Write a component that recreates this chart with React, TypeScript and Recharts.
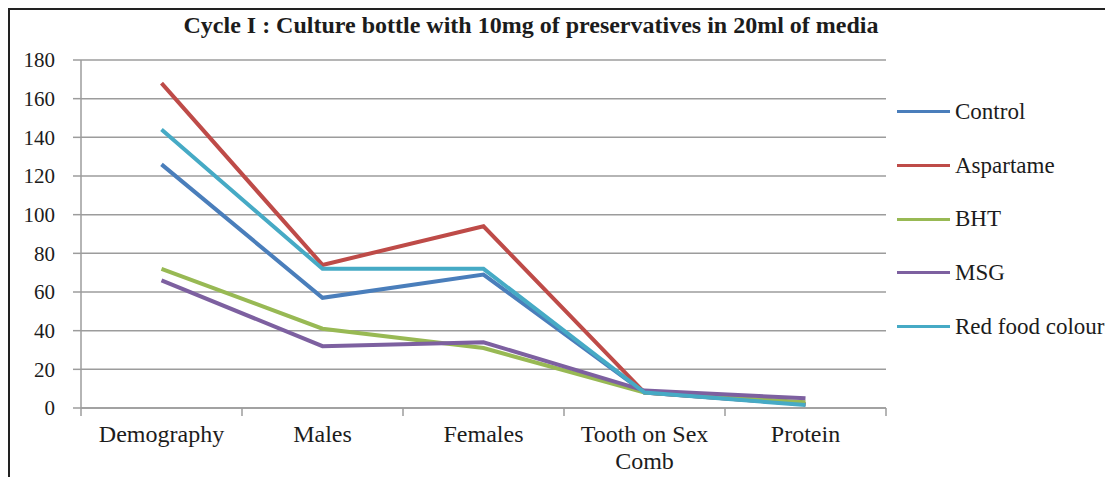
import React from 'react';
import { LineChart, Line, XAxis, YAxis, CartesianGrid } from 'recharts';

const CATEGORIES = ['Demography', 'Males', 'Females', 'Tooth on Sex Comb', 'Protein'];
const CONTROL = [126, 57, 69, 8, 2];
const ASPARTAME = [168, 74, 94, 8, 2];
const BHT = [72, 41, 31, 8, 3];
const MSG = [66, 32, 34, 9, 5];
const RED_FOOD = [144, 72, 72, 8, 1.5];
const Y_TICKS = [0, 20, 40, 60, 80, 100, 120, 140, 160, 180];
const TITLE = 'Cycle I : Culture bottle with 10mg of preservatives in 20ml of media';

const SERIES = [
  { key: 'control', name: 'Control', values: CONTROL, color: '#4A7EBB' },
  { key: 'aspartame', name: 'Aspartame', values: ASPARTAME, color: '#BE4B48' },
  { key: 'bht', name: 'BHT', values: BHT, color: '#98B954' },
  { key: 'msg', name: 'MSG', values: MSG, color: '#7D60A0' },
  { key: 'red', name: 'Red food colour', values: RED_FOOD, color: '#46AAC5' },
];

// x = i + 0.5 puts each point in the middle of its category slot on the numeric axis
const data = CATEGORIES.map((cat, i) => {
  const row: Record<string, number | string> = { cat, x: i + 0.5 };
  for (const s of SERIES) row[s.key] = s.values[i];
  return row;
});

const FONT = '"Liberation Serif", "Times New Roman", serif';
const GRID = '#9c9c9c';
const TEXT = '#1c1c1c';

function wrap(label: string, max = 12) {
  const lines: string[] = [];
  let cur = '';
  for (const w of label.split(' ')) {
    const next = cur ? cur + ' ' + w : w;
    if (next.length > max && cur) {
      lines.push(cur);
      cur = w;
    } else {
      cur = next;
    }
  }
  if (cur) lines.push(cur);
  return lines;
}

function CategoryTick(props: any) {
  const { x, y, payload } = props;
  const lines = wrap(String(payload.value));
  return (
    <text x={x} y={y} textAnchor="middle" fontFamily={FONT} fontSize={24} fill={TEXT}>
      {lines.map((l, i) => (
        <tspan key={i} x={x} dy={i === 0 ? 26 : 27}>
          {l}
        </tspan>
      ))}
    </text>
  );
}

function ValueTick(props: any) {
  const { x, y, payload } = props;
  return (
    <text x={x} y={y} dy="0.35em" textAnchor="end" fontFamily={FONT} fontSize={21} fill={TEXT}>
      {payload.value}
    </text>
  );
}

const EmptyTick = () => <g />;

export default function App() {
  return (
    <div
      style={{
        position: 'relative',
        width: 1103,
        height: 467,
        borderTop: '2px solid #222',
        borderLeft: '2px solid #222',
        fontFamily: FONT,
      }}
    >
      <div
        style={{
          position: 'absolute',
          top: 3,
          left: -2,
          width: 1046,
          textAlign: 'center',
          fontWeight: 'bold',
          fontSize: 24,
          lineHeight: '24px',
          color: TEXT,
          whiteSpace: 'nowrap',
        }}
      >
        {TITLE}
      </div>
      <div style={{ position: 'absolute', top: -2, left: -2 }}>
        <LineChart
          width={1105}
          height={469}
          data={data}
          margin={{ top: 52, right: 227, left: 13, bottom: 0 }}
        >
          <CartesianGrid horizontal vertical={false} stroke={GRID} strokeWidth={1.5} />
          {/* boundary tick marks between categories */}
          <XAxis
            xAxisId="a"
            dataKey="x"
            type="number"
            domain={[0, 5]}
            ticks={[0, 1, 2, 3, 4, 5]}
            tick={EmptyTick}
            tickSize={8}
            height={8}
            stroke={GRID}
            strokeWidth={1.5}
          />
          {/* category labels */}
          <XAxis
            xAxisId="b"
            dataKey="cat"
            type="category"
            axisLine={false}
            tickLine={false}
            tickSize={0}
            tickMargin={0}
            height={61}
            interval={0}
            padding={{ left: 80.5, right: 80.5 }}
            tick={<CategoryTick />}
          />
          <YAxis
            domain={[0, 180]}
            ticks={Y_TICKS}
            width={60}
            tickSize={8}
            tickMargin={18}
            stroke={GRID}
            strokeWidth={1.5}
            interval={0}
            tick={<ValueTick />}
          />
          {SERIES.map((s) => (
            <Line
              key={s.key}
              xAxisId="a"
              type="linear"
              dataKey={s.key}
              name={s.name}
              stroke={s.color}
              strokeWidth={4}
              dot={false}
              activeDot={false}
              isAnimationActive={false}
            />
          ))}
        </LineChart>
      </div>
      <div style={{ position: 'absolute', top: 75, left: 887 }}>
        {SERIES.map((s) => (
          <div key={s.key} style={{ display: 'flex', alignItems: 'center', height: 53.7 }}>
            <div style={{ width: 53, height: 3, background: s.color }} />
            <span style={{ marginLeft: 5, fontSize: 23, color: TEXT, whiteSpace: 'nowrap' }}>
              {s.name}
            </span>
          </div>
        ))}
      </div>
    </div>
  );
}
